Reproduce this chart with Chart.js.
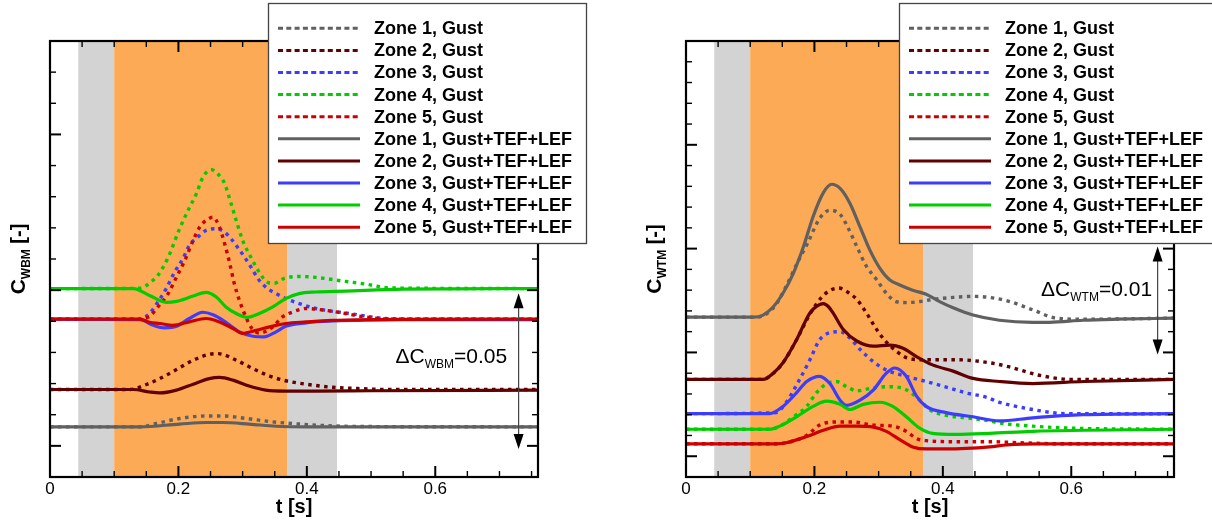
<!DOCTYPE html>
<html>
<head>
<meta charset="utf-8">
<script src="https://cdn.jsdelivr.net/npm/chart.js@4/dist/chart.umd.min.js"></script>
<style>
  html, body { margin: 0; padding: 0; background: #fff; }
  #wrap { position: relative; width: 1212px; height: 525px; overflow: hidden; }
  canvas { position: absolute; top: 0; }
  #cWbm { left: 0; }
  #cWtm { left: 606px; }
</style>
</head>
<body>
<div id="wrap">
  <canvas id="cWbm" width="606" height="525"></canvas>
  <canvas id="cWtm" width="606" height="525"></canvas>
</div>
<script>
// ---------- time histories, [t (s), coefficient] ----------
// wing bending moment, gust only
const wbmGust1 = [[0,0.0161],[0.14,0.0161],[0.166,0.0172],[0.202,0.0188],[0.243,0.0196],[0.269,0.0196],[0.305,0.0188],[0.347,0.0177],[0.388,0.0170],[0.44,0.0164],[0.5,0.0162],[0.76,0.0161]];
const wbmGust2 = [[0,0.0281],[0.125,0.0281],[0.15,0.0297],[0.171,0.0316],[0.197,0.0345],[0.223,0.0375],[0.248,0.0394],[0.262,0.0396],[0.29,0.0375],[0.316,0.0348],[0.342,0.0324],[0.367,0.0309],[0.399,0.0298],[0.44,0.0288],[0.48,0.0284],[0.53,0.0281],[0.76,0.0281]];
const wbmGust3 = [[0,0.0507],[0.14,0.0507],[0.147,0.0512],[0.155,0.0525],[0.168,0.0562],[0.181,0.0605],[0.194,0.0658],[0.207,0.0701],[0.217,0.0744],[0.23,0.0770],[0.243,0.0792],[0.259,0.0797],[0.272,0.0786],[0.282,0.0765],[0.292,0.0738],[0.303,0.0706],[0.313,0.0674],[0.326,0.0631],[0.339,0.0605],[0.352,0.0589],[0.367,0.0573],[0.388,0.0557],[0.414,0.0541],[0.44,0.0532],[0.466,0.0525],[0.5,0.0514],[0.53,0.0508],[0.76,0.0507]];
const wbmGust4 = [[0,0.0605],[0.14,0.0606],[0.16,0.0631],[0.168,0.0647],[0.184,0.0705],[0.202,0.0798],[0.215,0.0856],[0.228,0.0910],[0.238,0.0962],[0.251,0.0987],[0.261,0.0974],[0.272,0.0942],[0.282,0.0878],[0.29,0.0824],[0.30,0.0760],[0.313,0.0705],[0.326,0.0657],[0.339,0.0625],[0.349,0.0622],[0.365,0.0638],[0.388,0.0644],[0.414,0.0641],[0.46,0.0628],[0.49,0.0620],[0.53,0.0607],[0.76,0.0605]];
const wbmGust5 = [[0,0.0507],[0.14,0.0507],[0.155,0.0516],[0.168,0.0546],[0.184,0.0589],[0.197,0.0642],[0.21,0.0696],[0.223,0.0760],[0.233,0.0802],[0.243,0.0824],[0.254,0.0834],[0.264,0.0802],[0.272,0.0749],[0.28,0.0685],[0.287,0.0621],[0.295,0.0567],[0.305,0.0514],[0.314,0.0478],[0.326,0.0462],[0.347,0.0482],[0.362,0.0514],[0.378,0.0530],[0.399,0.0541],[0.43,0.0535],[0.46,0.0525],[0.49,0.0514],[0.53,0.0507],[0.76,0.0507]];
// wing bending moment, gust with trailing- and leading-edge flaps
const wbmFlap1 = [[0,0.0161],[0.14,0.0161],[0.202,0.0170],[0.243,0.0175],[0.269,0.0175],[0.31,0.0170],[0.352,0.0163],[0.4,0.0161],[0.76,0.0161]];
const wbmFlap2 = [[0,0.0281],[0.13,0.0281],[0.155,0.0273],[0.171,0.0270],[0.197,0.0279],[0.223,0.0298],[0.248,0.0316],[0.264,0.0320],[0.285,0.0311],[0.31,0.0292],[0.336,0.0279],[0.367,0.0276],[0.414,0.0276],[0.5,0.0277],[0.76,0.0279]];
const wbmFlap3 = [[0,0.0507],[0.14,0.0505],[0.161,0.0487],[0.178,0.0479],[0.197,0.0484],[0.217,0.0509],[0.238,0.0529],[0.254,0.0521],[0.274,0.0497],[0.295,0.0466],[0.316,0.0452],[0.333,0.0450],[0.352,0.0466],[0.367,0.0484],[0.399,0.0495],[0.44,0.0501],[0.48,0.0503],[0.55,0.0505],[0.76,0.0505]];
const wbmFlap4 = [[0,0.0605],[0.13,0.0605],[0.155,0.0583],[0.181,0.0561],[0.197,0.0564],[0.223,0.0581],[0.243,0.0593],[0.259,0.0578],[0.274,0.0546],[0.29,0.0525],[0.307,0.0513],[0.326,0.0525],[0.347,0.0546],[0.367,0.0573],[0.388,0.0589],[0.414,0.0594],[0.46,0.0597],[0.55,0.0603],[0.76,0.0605]];
const wbmFlap5 = [[0,0.0507],[0.14,0.0507],[0.155,0.0497],[0.171,0.0493],[0.191,0.0487],[0.217,0.0498],[0.243,0.0509],[0.264,0.0498],[0.285,0.0477],[0.3,0.0461],[0.321,0.0471],[0.342,0.0482],[0.367,0.0493],[0.399,0.0498],[0.44,0.0503],[0.481,0.0505],[0.55,0.0506],[0.76,0.0507]];

// wing torsion moment, gust only
const wtmGust1 = [[0,0.0154],[0.11,0.0154],[0.125,0.0157],[0.14,0.0166],[0.157,0.0185],[0.174,0.0207],[0.19,0.0226],[0.208,0.0249],[0.224,0.0257],[0.24,0.0253],[0.25,0.0243],[0.266,0.0222],[0.281,0.0203],[0.297,0.0190],[0.312,0.0177],[0.327,0.0169],[0.343,0.0168],[0.364,0.0169],[0.384,0.0171],[0.416,0.0173],[0.447,0.0174],[0.473,0.0173],[0.504,0.0169],[0.54,0.0161],[0.577,0.0153],[0.62,0.0152],[0.76,0.0153]];
const wtmGust2 = [[0,0.0094],[0.12,0.0094],[0.136,0.0100],[0.151,0.0110],[0.172,0.0132],[0.193,0.0157],[0.211,0.0173],[0.225,0.0180],[0.238,0.0182],[0.252,0.0178],[0.266,0.0171],[0.281,0.0158],[0.297,0.0142],[0.312,0.0130],[0.328,0.0121],[0.343,0.0115],[0.369,0.0113],[0.42,0.0113],[0.473,0.0110],[0.504,0.0106],[0.55,0.0098],[0.602,0.0094],[0.76,0.0094]];
const wtmGust3 = [[0,0.0061],[0.14,0.0062],[0.155,0.0071],[0.177,0.0094],[0.193,0.0113],[0.208,0.0132],[0.224,0.0139],[0.24,0.0140],[0.255,0.0134],[0.271,0.0123],[0.292,0.0111],[0.312,0.0103],[0.343,0.0097],[0.374,0.0092],[0.42,0.0084],[0.436,0.0081],[0.467,0.0077],[0.488,0.0072],[0.54,0.0065],[0.592,0.0061],[0.76,0.0061]];
const wtmGust4 = [[0,0.0046],[0.13,0.0046],[0.146,0.0049],[0.172,0.0060],[0.188,0.0068],[0.203,0.0081],[0.219,0.0090],[0.234,0.0092],[0.25,0.0087],[0.266,0.0083],[0.292,0.0086],[0.317,0.0087],[0.343,0.0084],[0.364,0.0074],[0.379,0.0065],[0.4,0.0060],[0.436,0.0057],[0.473,0.0054],[0.488,0.0052],[0.54,0.0049],[0.602,0.0047],[0.76,0.0046]];
const wtmGust5 = [[0,0.0032],[0.14,0.0032],[0.156,0.0033],[0.188,0.0040],[0.208,0.0050],[0.234,0.0053],[0.26,0.0053],[0.292,0.0050],[0.322,0.0049],[0.343,0.0044],[0.359,0.0037],[0.374,0.0035],[0.42,0.0034],[0.473,0.0034],[0.52,0.0033],[0.58,0.0032],[0.76,0.0032]];
// wing torsion moment, gust with trailing- and leading-edge flaps
const wtmFlap1 = [[0,0.0154],[0.105,0.0154],[0.12,0.0156],[0.136,0.0164],[0.151,0.0177],[0.167,0.0196],[0.183,0.0222],[0.198,0.0251],[0.214,0.0274],[0.227,0.0282],[0.24,0.0278],[0.255,0.0264],[0.271,0.0241],[0.286,0.0219],[0.302,0.0201],[0.317,0.0190],[0.333,0.0185],[0.353,0.0180],[0.374,0.0176],[0.395,0.0169],[0.416,0.0163],[0.447,0.0156],[0.488,0.0151],[0.54,0.0149],[0.566,0.0149],[0.618,0.0151],[0.67,0.0152],[0.76,0.0153]];
const wtmFlap2 = [[0,0.0094],[0.12,0.0094],[0.136,0.0100],[0.151,0.0110],[0.172,0.0132],[0.193,0.0158],[0.205,0.0165],[0.214,0.0167],[0.222,0.0164],[0.229,0.0158],[0.245,0.0142],[0.266,0.0131],[0.292,0.0126],[0.317,0.0127],[0.338,0.0124],[0.359,0.0116],[0.384,0.0108],[0.416,0.0102],[0.447,0.0095],[0.488,0.0092],[0.54,0.0090],[0.62,0.0092],[0.76,0.0094]];
const wtmFlap3 = [[0,0.0061],[0.13,0.0061],[0.151,0.0068],[0.172,0.0081],[0.188,0.0092],[0.208,0.0097],[0.224,0.0090],[0.24,0.0074],[0.25,0.0069],[0.271,0.0074],[0.292,0.0084],[0.312,0.0100],[0.325,0.0105],[0.343,0.0097],[0.359,0.0078],[0.374,0.0068],[0.405,0.0062],[0.447,0.0058],[0.488,0.0054],[0.54,0.0057],[0.618,0.0060],[0.76,0.0061]];
const wtmFlap4 = [[0,0.0046],[0.13,0.0046],[0.146,0.0049],[0.172,0.0058],[0.198,0.0068],[0.219,0.0073],[0.24,0.0070],[0.255,0.0065],[0.276,0.0070],[0.302,0.0072],[0.322,0.0068],[0.343,0.0058],[0.364,0.0047],[0.384,0.0042],[0.42,0.0041],[0.473,0.0042],[0.54,0.0044],[0.76,0.0046]];
const wtmFlap5 = [[0,0.0032],[0.14,0.0032],[0.156,0.0033],[0.188,0.0039],[0.214,0.0045],[0.24,0.0049],[0.266,0.0049],[0.292,0.0048],[0.312,0.0044],[0.333,0.0036],[0.353,0.0029],[0.374,0.0027],[0.405,0.0027],[0.473,0.0029],[0.5,0.0031],[0.55,0.0032],[0.76,0.0032]];

// ---------- axes ----------
const xTickValues = [0, 0.2, 0.4, 0.6];
const xTickLabels = ['0', '0.2', '0.4', '0.6'];
const wbmMajorTicks = [0.01, 0.06, 0.11];
const wtmMajorTicks = [0.002, 0.012, 0.022, 0.032];

// gust phase markers (s)
const phaseBands = [
  { from: 0.044, to: 0.1,   color: '#d3d3d3' },
  { from: 0.1,   to: 0.37,  color: '#fcaa55' },
  { from: 0.37,  to: 0.447, color: '#d3d3d3' }
];

const zoneColors = ['#606060', '#600000', '#3c3cff', '#00cc00', '#cc0000'];
const FONT = '"Liberation Sans", Arial, Helvetica, sans-serif';

function stepList(start, stop, step) {
  const out = [];
  for (let k = 0; start + k * step <= stop + 1e-9; k++) out.push(+(start + k * step).toFixed(6));
  return out;
}

function buildDatasets(gust, flap) {
  const ds = [];
  gust.forEach((s, i) => ds.push({ label: `Zone ${i + 1}, Gust`, data: s, borderColor: zoneColors[i], borderDash: [3.5, 4.5], borderWidth: 3.4 }));
  flap.forEach((s, i) => ds.push({ label: `Zone ${i + 1}, Gust+TEF+LEF`, data: s, borderColor: zoneColors[i], borderDash: [], borderWidth: 3.2 }));
  // later entries are painted on top
  ds.forEach((d, i) => { d.order = ds.length - i; });
  return ds;
}

// ---------- plugins ----------
const bandPlugin = {
  id: 'bands',
  beforeDatasetsDraw(chart, args, o) {
    const { ctx, chartArea: a, scales: { x } } = chart;
    ctx.save();
    o.bands.forEach(b => {
      const x0 = x.getPixelForValue(b.from), x1 = x.getPixelForValue(b.to);
      ctx.fillStyle = b.color;
      ctx.fillRect(x0, a.top, x1 - x0, a.bottom - a.top);
    });
    ctx.restore();
  }
};

const framePlugin = {
  id: 'frame',
  afterDatasetsDraw(chart, args, o) {
    const { ctx, chartArea: a, scales: { x, y } } = chart;
    const near = (list, v) => list.some(m => Math.abs(m - v) < 1e-9);
    const seg = (x0, y0, x1, y1) => { ctx.beginPath(); ctx.moveTo(x0, y0); ctx.lineTo(x1, y1); ctx.stroke(); };
    ctx.save();
    ctx.strokeStyle = '#000';
    stepList(0.05, 0.75, 0.05).forEach(v => {
      const p = x.getPixelForValue(v);
      const major = near(xTickValues, v);
      const len = major ? 11 : 6;
      ctx.lineWidth = major ? 2 : 1.4;
      seg(p, a.bottom, p, a.bottom - len);
      seg(p, a.top, p, a.top + len);
    });
    stepList(o.yStep, o.yLast, o.yStep).forEach(v => {
      const p = y.getPixelForValue(v);
      const major = near(o.yMajor, v);
      const len = major ? 11 : 6;
      ctx.lineWidth = major ? 2 : 1.4;
      seg(a.left, p, a.left + len, p);
      seg(a.right, p, a.right - len, p);
    });
    ctx.lineWidth = 2.2;
    ctx.strokeRect(a.left, a.top, a.right - a.left, a.bottom - a.top);
    ctx.restore();
  }
};

const notePlugin = {
  id: 'deltaNote',
  afterDatasetsDraw(chart, args, o) {
    const { ctx, scales: { x, y } } = chart;
    ctx.save();
    // double-headed arrow spanning one major interval
    const ax = x.getPixelForValue(o.arrowX);
    const yTop = y.getPixelForValue(o.arrowTop), yBot = y.getPixelForValue(o.arrowBottom);
    ctx.strokeStyle = '#444';
    ctx.lineWidth = 1.2;
    ctx.beginPath(); ctx.moveTo(ax, yTop + 12); ctx.lineTo(ax, yBot - 12); ctx.stroke();
    ctx.fillStyle = '#000';
    ctx.beginPath(); ctx.moveTo(ax, yTop); ctx.lineTo(ax - 5, yTop + 15); ctx.lineTo(ax + 5, yTop + 15); ctx.closePath(); ctx.fill();
    ctx.beginPath(); ctx.moveTo(ax, yBot); ctx.lineTo(ax - 5, yBot - 15); ctx.lineTo(ax + 5, yBot - 15); ctx.closePath(); ctx.fill();
    // label
    let tx = x.getPixelForValue(o.textX);
    const ty = y.getPixelForValue(o.textY);
    ctx.fillStyle = '#000';
    ctx.textBaseline = 'alphabetic';
    ctx.textAlign = 'left';
    ctx.font = '21px ' + FONT;
    ctx.fillText('\u0394C', tx, ty); tx += ctx.measureText('\u0394C').width;
    ctx.font = '12px ' + FONT;
    ctx.fillText(o.sub, tx, ty + 5); tx += ctx.measureText(o.sub).width;
    ctx.font = '21px ' + FONT;
    ctx.fillText(o.value, tx, ty);
    ctx.restore();
  }
};

const yTitlePlugin = {
  id: 'yTitle',
  afterDraw(chart, args, o) {
    const { ctx, chartArea: a } = chart;
    const parts = [
      { t: 'C', f: 'bold 21px ' + FONT, dy: 0 },
      { t: o.sub, f: 'bold 12px ' + FONT, dy: 5 },
      { t: ' [-]', f: 'bold 20px ' + FONT, dy: 0 }
    ];
    ctx.save();
    let total = 0;
    parts.forEach(p => { ctx.font = p.f; p.w = ctx.measureText(p.t).width; total += p.w; });
    ctx.translate(a.left - 25, (a.top + a.bottom) / 2);
    ctx.rotate(-Math.PI / 2);
    ctx.fillStyle = '#000';
    ctx.textBaseline = 'alphabetic';
    ctx.textAlign = 'left';
    let cx = -total / 2;
    parts.forEach(p => { ctx.font = p.f; ctx.fillText(p.t, cx, p.dy); cx += p.w; });
    ctx.restore();
  }
};

const legendPlugin = {
  id: 'boxLegend',
  afterDraw(chart, args, o) {
    const { ctx } = chart;
    ctx.save();
    ctx.fillStyle = '#fff';
    ctx.fillRect(o.left, o.top, o.width, o.height);
    ctx.strokeStyle = '#444';
    ctx.lineWidth = 1.3;
    ctx.strokeRect(o.left + 0.5, o.top + 0.5, o.width, o.height);
    ctx.font = 'bold 18px ' + FONT;
    ctx.textBaseline = 'middle';
    ctx.textAlign = 'left';
    chart.data.datasets.forEach((ds, i) => {
      const yy = o.top + 25.3 + i * 22.1;
      ctx.strokeStyle = ds.borderColor;
      ctx.lineWidth = 3;
      ctx.setLineDash(ds.borderDash.length ? [5, 3.3] : []);
      ctx.beginPath(); ctx.moveTo(o.left + 10, yy); ctx.lineTo(o.left + 92, yy); ctx.stroke();
      ctx.setLineDash([]);
      ctx.fillStyle = '#000';
      ctx.fillText(ds.label, o.left + 106, yy + 1);
    });
    ctx.restore();
  }
};

function makeChart(id, cfg) {
  return new Chart(document.getElementById(id), {
    type: 'line',
    data: { datasets: buildDatasets(cfg.gust, cfg.flap) },
    options: {
      responsive: false,
      animation: false,
      devicePixelRatio: 1,
      layout: { padding: { left: cfg.padLeft, top: 41, right: cfg.padRight, bottom: 0 } },
      elements: {
        point: { radius: 0, hoverRadius: 0 },
        line: { cubicInterpolationMode: 'monotone', fill: false, borderCapStyle: 'butt' }
      },
      scales: {
        x: {
          type: 'linear', min: 0, max: 0.76,
          grid: { display: false, drawTicks: false },
          border: { display: false },
          ticks: {
            stepSize: 0.05, autoSkip: false, maxRotation: 0, padding: 2,
            color: '#000', font: { family: FONT, size: 17 },
            callback: v => {
              const k = xTickValues.findIndex(t => Math.abs(t - v) < 1e-6);
              return k >= 0 ? xTickLabels[k] : '';
            }
          },
          title: { display: true, text: 't [s]', color: '#000', font: { family: FONT, size: 20, weight: 'bold' }, padding: { top: 0, bottom: 6 } },
          afterFit(s) { s.height = 48; }
        },
        y: { type: 'linear', min: 0, max: cfg.yMax, display: false }
      },
      plugins: {
        legend: { display: false },
        tooltip: { enabled: false },
        bands: { bands: phaseBands },
        frame: { yStep: cfg.yStep, yLast: cfg.yLast, yMajor: cfg.yMajor },
        deltaNote: cfg.note,
        yTitle: { sub: cfg.sub },
        boxLegend: cfg.legend
      }
    },
    plugins: [bandPlugin, framePlugin, notePlugin, yTitlePlugin, legendPlugin]
  });
}

makeChart('cWbm', {
  gust: [wbmGust1, wbmGust2, wbmGust3, wbmGust4, wbmGust5],
  flap: [wbmFlap1, wbmFlap2, wbmFlap3, wbmFlap4, wbmFlap5],
  padLeft: 50, padRight: 68,
  yMax: 0.14, yStep: 0.01, yLast: 0.13, yMajor: wbmMajorTicks,
  sub: 'WBM',
  note: { arrowX: 0.7298, arrowTop: 0.059, arrowBottom: 0.009, textX: 0.538, textY: 0.0366, sub: 'WBM', value: '=0.05' },
  legend: { left: 268, top: 3, width: 318, height: 240 }
});

makeChart('cWtm', {
  gust: [wtmGust1, wtmGust2, wtmGust3, wtmGust4, wtmGust5],
  flap: [wtmFlap1, wtmFlap2, wtmFlap3, wtmFlap4, wtmFlap5],
  padLeft: 80, padRight: 38,
  yMax: 0.042, yStep: 0.002, yLast: 0.040, yMajor: wtmMajorTicks,
  sub: 'WTM',
  note: { arrowX: 0.7345, arrowTop: 0.0222, arrowBottom: 0.0118, textX: 0.553, textY: 0.01746, sub: 'WTM', value: '=0.01' },
  legend: { left: 293, top: 3, width: 330, height: 240 }
});
</script>
</body>
</html>
